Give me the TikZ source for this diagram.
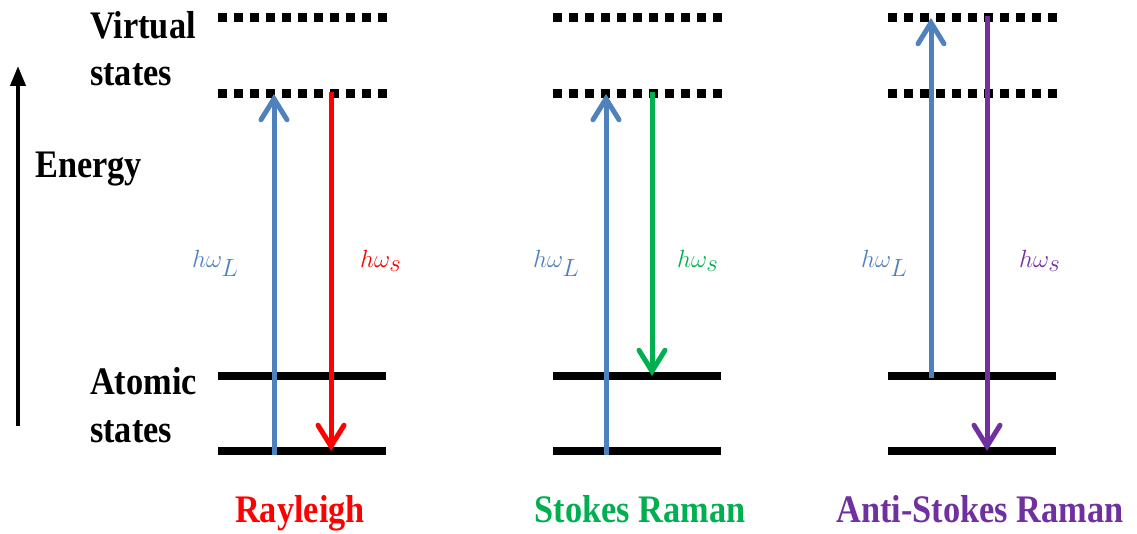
\documentclass[tikz,border=0pt]{standalone}
\usepackage{fontspec}
\setmainfont{Liberation Serif}[FakeStretch=0.88]
\usetikzlibrary{arrows.meta}
\definecolor{laser}{RGB}{79,129,189}
\definecolor{rayred}{RGB}{255,0,0}
\definecolor{stokesgreen}{RGB}{0,176,80}
\definecolor{antipurple}{RGB}{112,48,160}
\tikzset{
  virtual/.style={line width=9pt, dash pattern=on 8.5pt off 7.5pt},
  atomic/.style={line width=8pt},
  photon/.style={line width=5pt, -{Straight Barb[length=21pt,width=26pt,line cap=round]}},
  title/.style={font=\bfseries\fontsize{39}{41}\selectfont, anchor=base west, inner sep=0pt},
  caption/.style={font=\bfseries\fontsize{39}{41}\selectfont, anchor=base, inner sep=0pt},
  freq/.style={font=\fontsize{36}{38}\selectfont, anchor=base west, inner sep=0pt}
}
\begin{document}
\begin{tikzpicture}[x=1pt,y=-1pt]
\useasboundingbox (0,0) rectangle (1137,534);

% energy axis
\coordinate (eLow) at (18,426);
\coordinate (eHigh) at (18,66);
\draw[line width=4pt, -{Triangle[length=20pt,width=15pt]}] (eLow) -- (eHigh);

% side titles
\node[title] (virt1) at (90,39) {Virtual};
\node[title] (virt2) at (90,86) {states};
\node[title] (energy) at (35,178) {Energy};
\node[title] (atom1) at (90,394) {Atomic};
\node[title] (atom2) at (90,442) {states};

% energy levels for the three processes
\foreach \g/\xa in {r/218, s/553, a/888}{
  \coordinate (\g-v2w) at (\xa,18);
  \coordinate (\g-v2e) at ({\xa+168.5},18);
  \coordinate (\g-v1w) at (\xa,94);
  \coordinate (\g-v1e) at ({\xa+168.5},94);
  \coordinate (\g-g1w) at (\xa,376);
  \coordinate (\g-g1e) at ({\xa+168},376);
  \coordinate (\g-g0w) at (\xa,451);
  \coordinate (\g-g0e) at ({\xa+168},451);
  \draw[virtual] (\g-v2w) -- (\g-v2e);
  \draw[virtual] (\g-v1w) -- (\g-v1e);
  \draw[atomic] (\g-g1w) -- (\g-g1e);
  \draw[atomic] (\g-g0w) -- (\g-g0e);
}

% Rayleigh
\coordinate (rInB) at (274,455);
\coordinate (rInT) at (274,94);
\coordinate (rOutT) at (331,92);
\coordinate (rOutB) at (331,451);
\draw[photon, laser] (rInB) -- (rInT);
\draw[photon, rayred] (rOutT) -- (rOutB);
\node[freq, text=laser] (rL) at (192,268) {$h\omega_L$};
\node[freq, text=rayred] (rS) at (360,268) {$h\omega_s$};
\node[caption, text=rayred] (rCap) at (300,522) {Rayleigh};

% Stokes Raman
\coordinate (sInB) at (606,455);
\coordinate (sInT) at (606,94);
\coordinate (sOutT) at (652,92);
\coordinate (sOutB) at (652,376);
\draw[photon, laser] (sInB) -- (sInT);
\draw[photon, stokesgreen] (sOutT) -- (sOutB);
\node[freq, text=laser] (sL) at (533,268) {$h\omega_L$};
\node[freq, text=stokesgreen] (sS) at (677,268) {$h\omega_s$};
\node[caption, text=stokesgreen] (sCap) at (640,522) {Stokes Raman};

% Anti-Stokes Raman
\coordinate (aInB) at (931,378);
\coordinate (aInT) at (931,18);
\coordinate (aOutT) at (987,16);
\coordinate (aOutB) at (987,451);
\draw[photon, laser] (aInB) -- (aInT);
\draw[photon, antipurple] (aOutT) -- (aOutB);
\node[freq, text=laser] (aL) at (861,268) {$h\omega_L$};
\node[freq, text=antipurple] (aS) at (1019,268) {$h\omega_s$};
\node[caption, text=antipurple] (aCap) at (980,522) {Anti-Stokes Raman};
\end{tikzpicture}
\end{document}
